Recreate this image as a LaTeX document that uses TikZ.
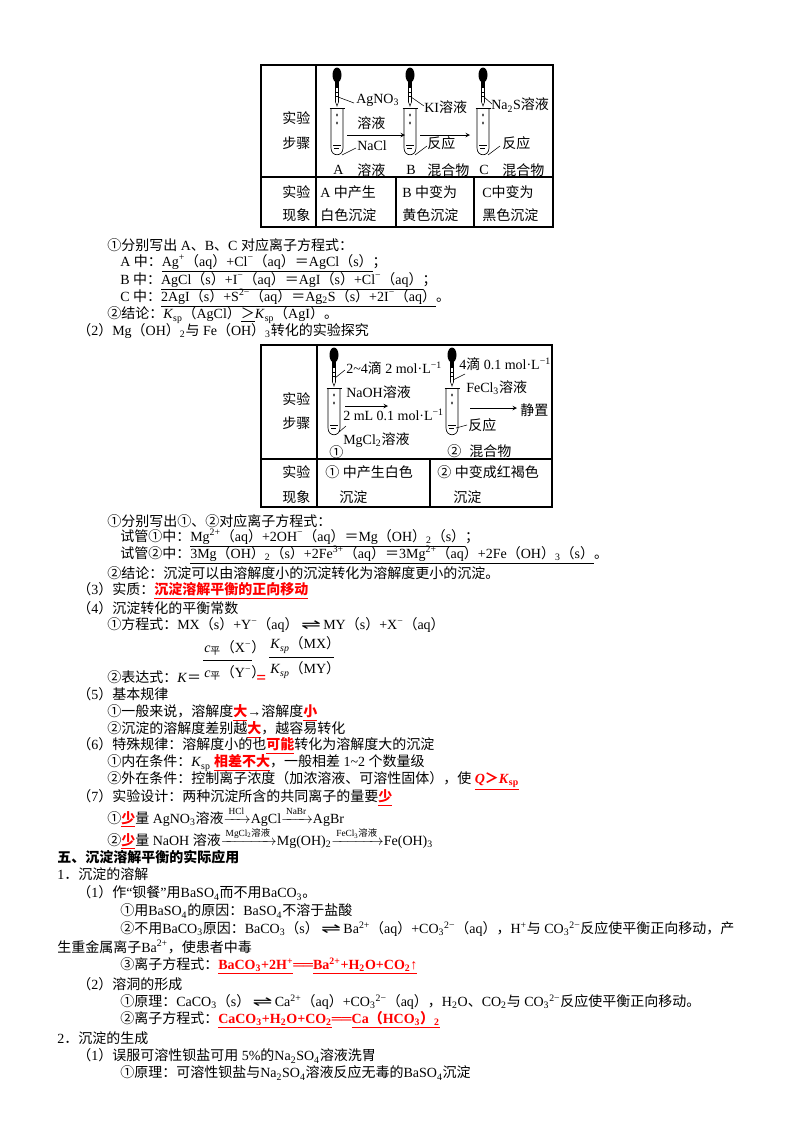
\documentclass[tikz,border=0pt]{standalone}
\usepackage{fontspec}
\usepackage{amsmath}
\setmainfont{Liberation Serif}
\newfontfamily\cjk{Noto Sans CJK SC}
\newfontfamily\sym{DejaVu Sans}
\newXeTeXintercharclass\cjkclass
\XeTeXinterchartokenstate=1
\def\setcls#1#2{\count255=#1 \loop \XeTeXcharclass\count255=\cjkclass \advance\count255 by 1 \ifnum\count255<#2 \repeat}
\setcls{"4E00}{"A000}
\setcls{"3000}{"3040}
\setcls{"FF00}{"FFF0}
\setcls{"2460}{"2474}
\XeTeXinterchartoks 0 \cjkclass = {\begingroup\cjk}
\XeTeXinterchartoks 4095 \cjkclass = {\begingroup\cjk}
\XeTeXinterchartoks \cjkclass 0 = {\endgroup}
\XeTeXinterchartoks \cjkclass 4095 = {\endgroup}
\newcommand\Up[1]{\textsuperscript{#1}}
\newcommand\Dn[1]{\textsubscript{#1}}
\newcommand\Red[1]{\textcolor{red}{\bfseries\underline{#1}}}
\newcommand\eqarr{\,\scalebox{1.7}[1]{\sym ⇌}\,}
\tikzset{
  txt/.style={anchor=west,inner sep=0pt,font=\fontsize{10.5pt}{12pt}\selectfont},
  tbl/.style={line width=0.9pt},
  tubepic/.pic={
    \draw[line width=0.5pt] (-6,0) -- (-6,40) .. controls (-6,49) and (6,49) .. (6,40) -- (6,0);
    \draw[line width=0.6pt] (-7.5,0) -- (7.5,0);
    \draw[line width=0.4pt] (-4,37) -- (4,37) (-3,40) -- (2,40);
    \fill (0,7) ellipse (0.8 and 1.6) (0,15) ellipse (0.8 and 1.6);
  },
  dropperpic/.pic={
    \fill (0,7) ellipse (4.5 and 7.5);
    \fill (-1.8,12) rectangle (1.8,20);
    \draw[line width=0.4pt] (-1.5,20) -- (-1.5,34) -- (0,38) -- (1.5,34) -- (1.5,20);
    \draw[line width=0.3pt] (-1.5,24) -- (1.5,24) (-1.5,28) -- (1.5,28);
  }
}
\begin{document}
\begin{tikzpicture}[x=0.75pt,y=-0.75pt]
\useasboundingbox (0,0) rectangle (800,1132);
\fill[white] (0,0) rectangle (800,1132);
% ---------- table 1
\draw[tbl] (261,65) rectangle (553,227);
\draw[tbl] (316,65) -- (316,227) (261,177) -- (553,177) (396,177) -- (396,227) (474,177) -- (474,227);
\pic at (337,68) {dropperpic}; \pic at (337,108) {tubepic};
\pic at (410,68) {dropperpic}; \pic at (410,108) {tubepic};
\pic at (483,68) {dropperpic}; \pic at (483,108) {tubepic};
\coordinate (a1) at (347,135); \coordinate (a2) at (405,135);
\coordinate (b1) at (420,135); \coordinate (b2) at (470,135);
\draw[-stealth,line width=0.5pt] (a1) -- (a2);
\draw[-stealth,line width=0.5pt] (b1) -- (b2);
\draw[line width=0.4pt] (338,97) -- (354,103) (342,155) -- (356,148)
  (411,97) -- (424,106) (415,155) -- (427,146)
  (484,97) -- (492,104) (488,155) -- (500,146);
\node[txt] (s1) at (282,118) {实验};
\node[txt] (s2) at (282,143) {步骤};
\node[txt] (t1) at (356,100) {AgNO\Dn{3}};
\node[txt] (t2) at (357,123) {溶液};
\node[txt] (t3) at (357,146) {NaCl};
\node[txt] (t4) at (333,170) {A};
\node[txt] (t5) at (357,170) {溶液};
\node[txt] (t6) at (424,107) {KI溶液};
\node[txt] (t7) at (427,143) {反应};
\node[txt] (t8) at (406,170) {B};
\node[txt] (t9) at (427,170) {混合物};
\node[txt] (t10) at (491,105) {Na\Dn{2}S溶液};
\node[txt] (t11) at (502,143) {反应};
\node[txt] (t12) at (479,170) {C};
\node[txt] (t13) at (502,170) {混合物};
\node[txt] (r1) at (282,192) {实验};
\node[txt] (r2) at (282,215) {现象};
\node[txt] (r3) at (320,192) {A 中产生};
\node[txt] (r4) at (320,215) {白色沉淀};
\node[txt] (r5) at (402,192) {B 中变为};
\node[txt] (r6) at (402,215) {黄色沉淀};
\node[txt] (r7) at (482,192) {C中变为};
\node[txt] (r8) at (482,215) {黑色沉淀};
% ---------- lines after table 1
\node[txt] (l1) at (107,245) {①分别写出 A、B、C 对应离子方程式：};
\node[txt] (l2) at (120,263) {A 中：\underline{Ag\Up{+}（aq）+Cl\Up{−}（aq）＝AgCl（s）}；};
\node[txt] (l3) at (120,281) {B 中：\underline{AgCl（s）+I\Up{−}（aq）＝AgI（s）+Cl\Up{−}（aq）}；};
\node[txt] (l4) at (120,298) {C 中：\underline{2AgI（s）+S\Up{2−}（aq）＝Ag\Dn{2}S（s）+2I\Up{−}（aq）}。};
\node[txt] (l5) at (107,315) {②结论：\textit{K}\Dn{sp}（AgCl）\underline{＞}\textit{K}\Dn{sp}（AgI）。};
\node[txt] (l6) at (77,331) {（2）Mg（OH）\Dn{2}与 Fe（OH）\Dn{3}转化的实验探究};
% ---------- table 2
\draw[tbl] (261,345) rectangle (552,507);
\draw[tbl] (317,345) -- (317,507) (261,459) -- (552,459) (430,459) -- (430,507);
\pic at (334,348) {dropperpic}; \pic at (334,388) {tubepic};
\pic at (452,348) {dropperpic}; \pic at (452,388) {tubepic};
\coordinate (c1) at (345,406); \coordinate (c2) at (388,406);
\coordinate (d1) at (470,408); \coordinate (d2) at (517,408);
\draw[-stealth,line width=0.5pt] (c1) -- (c2);
\draw[-stealth,line width=0.5pt] (d1) -- (d2);
\draw[line width=0.4pt] (335,378) -- (345,370) (339,432) -- (346,426)
  (453,380) -- (465,374) (456,428) -- (467,425);
\node[txt] (u1) at (282,399) {实验};
\node[txt] (u2) at (282,423) {步骤};
\node[txt] (u3) at (346,368) {2\textasciitilde4滴 2 mol·L\Up{−1}};
\node[txt] (u4) at (346,392) {NaOH溶液};
\node[txt] (u5) at (343,415) {2 mL 0.1 mol·L\Up{−1}};
\node[txt] (u6) at (343,440) {MgCl\Dn{2}溶液};
\node[txt] (u7) at (329,452) {①};
\node[txt] (u8) at (459,364) {4滴 0.1 mol·L\Up{−1}};
\node[txt] (u9) at (466,388) {FeCl\Dn{3}溶液};
\node[txt] (u10) at (520,410) {静置};
\node[txt] (u11) at (468,425) {反应};
\node[txt] (u12) at (447,451) {②};
\node[txt] (u13) at (469,451) {混合物};
\node[txt] (v1) at (282,472) {实验};
\node[txt] (v2) at (282,497) {现象};
\node[txt] (v3) at (325,472) {① 中产生白色};
\node[txt] (v4) at (339,497) {沉淀};
\node[txt] (v5) at (437,472) {② 中变成红褐色};
\node[txt] (v6) at (453,497) {沉淀};
% ---------- lines after table 2
\node[txt] (m1) at (107,521) {①分别写出①、②对应离子方程式：};
\node[txt] (m2) at (120,538) {试管①中：\underline{Mg\Up{2+}（aq）+2OH\Up{−}（aq）＝Mg（OH）\Dn{2}（s）}；};
\node[txt] (m3) at (120,555) {试管②中：\underline{3Mg（OH）\Dn{2}（s）+2Fe\Up{3+}（aq）＝3Mg\Up{2+}（aq）+2Fe（OH）\Dn{3}（s）}。};
\node[txt] (m4) at (107,573) {②结论：沉淀可以由溶解度小的沉淀转化为溶解度更小的沉淀。};
\node[txt] (m5) at (77,591) {（3）实质：\Red{沉淀溶解平衡的正向移动}};
\node[txt] (m6) at (77,608) {（4）沉淀转化的平衡常数};
\node[txt] (m7) at (107,625) {①方程式：MX（s）+Y\Up{−}（aq）\eqarr MY（s）+X\Up{−}（aq）};
\node[txt] (m8) at (107,677) {②表达式：\textit{K}＝};
\node[txt] (f1) at (204,648) {\textit{c}\Dn{平}（X\Up{−}）};
\node[txt] (f2) at (204,673) {\textit{c}\Dn{平}（Y\Up{−}）};
\draw[line width=0.5pt] (203,660) -- (252,660);
\node[txt,text=red,font=\fontsize{13pt}{14pt}\bfseries] (f3) at (256,679) {=};
\node[txt] (f4) at (270,645) {\textit{K}\Dn{\textit{sp}}（MX）};
\node[txt] (f5) at (270,670) {\textit{K}\Dn{\textit{sp}}（MY）};
\draw[line width=0.5pt] (269,657) -- (334,657);
\node[txt] (n1) at (77,694) {（5）基本规律};
\node[txt] (n2) at (107,713) {①一般来说，溶解度\Red{大}→溶解度\Red{小}};
\node[txt] (n3) at (107,730) {②沉淀的溶解度差别越\Red{大}，越容易转化};
\node[txt] (n4) at (77,746) {（6）特殊规律：溶解度小的也\Red{可能}转化为溶解度大的沉淀};
\node[txt] (n5) at (107,763) {①内在条件：\textit{K}\Dn{sp} \Red{相差不大}，一般相差 1\textasciitilde2 个数量级};
\node[txt] (n6) at (107,781) {②外在条件：控制离子浓度（加浓溶液、可溶性固体），使 \Red{\textit{Q}＞\textit{K}\Dn{sp}}};
\node[txt] (n7) at (77,798) {（7）实验设计：两种沉淀所含的共同离子的量要\Red{少}};
\node[txt] (n8) at (107,817) {①\Red{少}量 AgNO\Dn{3}溶液$\xrightarrow{\text{\scriptsize\,HCl\,}}$AgCl$\xrightarrow{\text{\scriptsize\,NaBr\,}}$AgBr};
\node[txt] (n9) at (107,838) {②\Red{少}量 NaOH 溶液$\xrightarrow{\text{\scriptsize\,MgCl\Dn{2}溶液\,}}$Mg(OH)\Dn{2}$\xrightarrow{\text{\scriptsize\,FeCl\Dn{3}溶液\,}}$Fe(OH)\Dn{3}};
% ---------- section 5
\node[txt,font=\fontsize{10.5pt}{12pt}\bfseries] (p1) at (57,857) {五、沉淀溶解平衡的实际应用};
\node[txt] (p2) at (57,874) {1．沉淀的溶解};
\node[txt] (p3) at (77,893) {（1）作“钡餐”用BaSO\Dn{4}而不用BaCO\Dn{3}。};
\node[txt] (p4) at (120,911) {①用BaSO\Dn{4}的原因：BaSO\Dn{4}不溶于盐酸};
\node[txt] (p5) at (120,929) {②不用BaCO\Dn{3}原因：BaCO\Dn{3}（s）\eqarr Ba\Up{2+}（aq）+CO\Dn{3}\Up{2−}（aq），H\Up{+}与 CO\Dn{3}\Up{2−}反应使平衡正向移动，产};
\node[txt] (p6) at (57,947) {生重金属离子Ba\Up{2+}，使患者中毒};
\node[txt] (p7) at (120,966) {③离子方程式：\Red{BaCO\Dn{3}+2H\Up{+}}\textcolor{red}{\bfseries ══}\Red{Ba\Up{2+}+H\Dn{2}O+CO\Dn{2}↑}};
\node[txt] (p8) at (77,984) {（2）溶洞的形成};
\node[txt] (p9) at (120,1002) {①原理：CaCO\Dn{3}（s）\eqarr Ca\Up{2+}（aq）+CO\Dn{3}\Up{2−}（aq），H\Dn{2}O、CO\Dn{2}与 CO\Dn{3}\Up{2−}反应使平衡正向移动。};
\node[txt] (p10) at (120,1020) {②离子方程式：\Red{CaCO\Dn{3}+H\Dn{2}O+CO\Dn{2}}\textcolor{red}{\bfseries ══}\Red{Ca（HCO\Dn{3}）\Dn{2}}};
\node[txt] (p11) at (57,1038) {2．沉淀的生成};
\node[txt] (p12) at (77,1056) {（1）误服可溶性钡盐可用 5\%的Na\Dn{2}SO\Dn{4}溶液洗胃};
\node[txt] (p13) at (120,1073) {①原理：可溶性钡盐与Na\Dn{2}SO\Dn{4}溶液反应无毒的BaSO\Dn{4}沉淀};
\end{tikzpicture}
\end{document}
